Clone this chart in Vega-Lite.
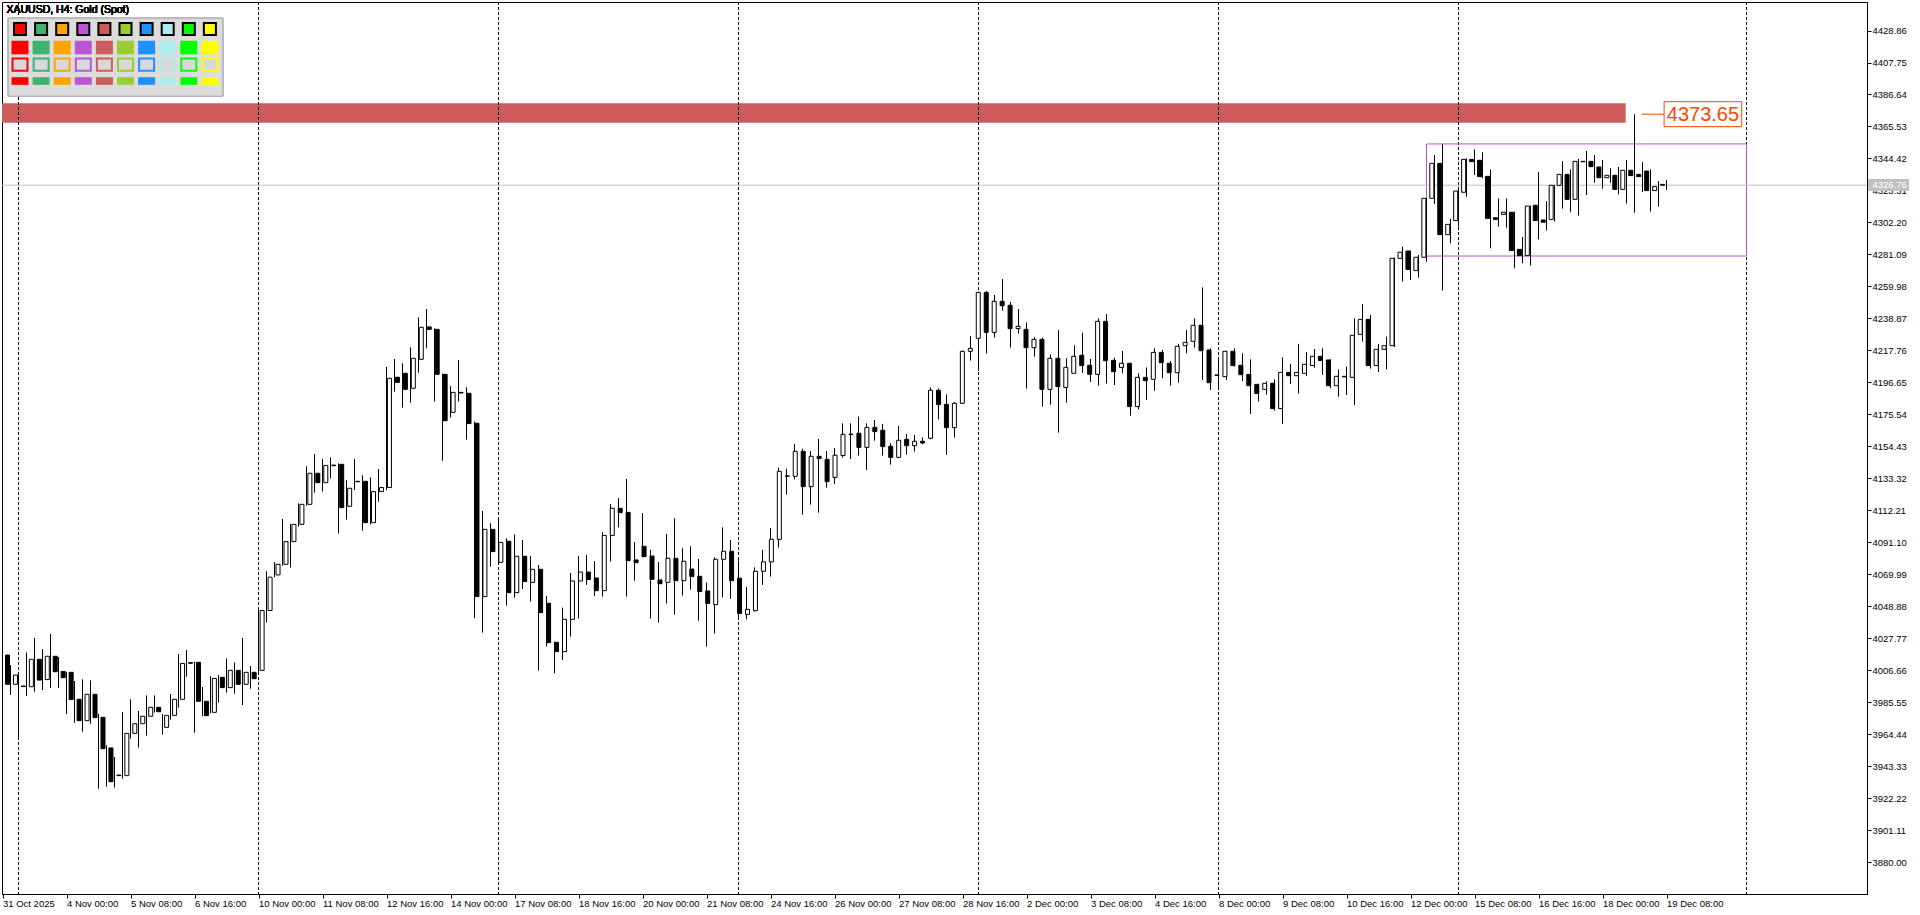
{
  "$schema": "https://vega.github.io/schema/vega-lite/v6.json",
  "width": 1865,
  "height": 892,
  "autosize": {"type": "none"},
  "padding": {"left": 2, "top": 2, "right": 53, "bottom": 21},
  "background": "white",
  "config": {
    "view": {"stroke": "black", "strokeWidth": 1},
    "font": "Liberation Sans",
    "axis": {"labelFont": "Liberation Sans", "titleFont": "Liberation Sans"}
  },
  "datasets": {
    "candles": [
      {"i":-2,"o":4016.6,"h":4020.5,"l":3994.0,"c":3997.3},
      {"i":-1,"o":3997.3,"h":4010.0,"l":3990.2,"c":4003.4},
      {"i":0,"o":3996.2,"h":4004.5,"l":3962.3,"c":3995.8},
      {"i":1,"o":3995.7,"h":4018.4,"l":3989.6,"c":4013.8},
      {"i":2,"o":4013.8,"h":4027.9,"l":3992.4,"c":4000.1},
      {"i":3,"o":4000.4,"h":4020.6,"l":3993.5,"c":4015.8},
      {"i":4,"o":4015.8,"h":4030.5,"l":3994.8,"c":4005.6},
      {"i":5,"o":4005.8,"h":4015.3,"l":3994.8,"c":4001.7},
      {"i":6,"o":4005.2,"h":4005.5,"l":3977.7,"c":3987.2},
      {"i":7,"o":3987.4,"h":3999.5,"l":3972.0,"c":3973.3},
      {"i":8,"o":3973.3,"h":4000.6,"l":3966.0,"c":3990.7},
      {"i":9,"o":3990.7,"h":3999.9,"l":3971.3,"c":3975.3},
      {"i":10,"o":3975.5,"h":3977.7,"l":3928.4,"c":3954.8},
      {"i":11,"o":3955.3,"h":3957.0,"l":3929.7,"c":3933.0},
      {"i":12,"o":3937.0,"h":3949.3,"l":3929.1,"c":3937.4},
      {"i":13,"o":3937.0,"h":3979.0,"l":3935.0,"c":3964.9},
      {"i":14,"o":3964.9,"h":3987.4,"l":3961.4,"c":3971.3},
      {"i":15,"o":3971.3,"h":3979.7,"l":3955.5,"c":3976.2},
      {"i":16,"o":3976.2,"h":3990.0,"l":3963.4,"c":3982.1},
      {"i":17,"o":3982.1,"h":3990.0,"l":3978.6,"c":3979.2},
      {"i":18,"o":3968.9,"h":3977.7,"l":3964.1,"c":3976.8},
      {"i":19,"o":3976.8,"h":3990.9,"l":3974.0,"c":3987.4},
      {"i":20,"o":3987.4,"h":4017.3,"l":3981.9,"c":4011.1},
      {"i":21,"o":4011.6,"h":4019.9,"l":4002.3,"c":4011.2},
      {"i":22,"o":4011.8,"h":4012.2,"l":3965.4,"c":3986.1},
      {"i":23,"o":3986.1,"h":3995.5,"l":3976.2,"c":3976.6},
      {"i":24,"o":3978.8,"h":4002.6,"l":3978.1,"c":4001.2},
      {"i":25,"o":4001.9,"h":4003.4,"l":3985.2,"c":3995.1},
      {"i":26,"o":3995.1,"h":4014.4,"l":3991.8,"c":4006.5},
      {"i":27,"o":4006.5,"h":4011.8,"l":3991.1,"c":3997.3},
      {"i":28,"o":3997.3,"h":4027.9,"l":3983.6,"c":4005.2},
      {"i":29,"o":4005.2,"h":4009.4,"l":3994.4,"c":4001.0},
      {"i":30,"o":4006.5,"h":4048.0,"l":4004.0,"c":4046.0},
      {"i":31,"o":4046.0,"h":4072.0,"l":4038.0,"c":4068.0},
      {"i":32,"o":4069.5,"h":4078.0,"l":4068.0,"c":4076.5},
      {"i":33,"o":4076.5,"h":4106.4,"l":4075.6,"c":4091.5},
      {"i":34,"o":4091.5,"h":4103.2,"l":4074.3,"c":4102.9},
      {"i":35,"o":4102.9,"h":4116.8,"l":4101.4,"c":4116.1},
      {"i":36,"o":4116.1,"h":4141.2,"l":4115.2,"c":4136.6},
      {"i":37,"o":4136.6,"h":4149.3,"l":4123.8,"c":4130.4},
      {"i":38,"o":4130.4,"h":4146.0,"l":4124.5,"c":4141.8},
      {"i":39,"o":4142.0,"h":4147.1,"l":4133.3,"c":4141.6},
      {"i":40,"o":4142.5,"h":4143.2,"l":4096.8,"c":4113.9},
      {"i":41,"o":4114.8,"h":4132.0,"l":4106.0,"c":4126.7},
      {"i":42,"o":4131.3,"h":4146.0,"l":4125.6,"c":4131.0},
      {"i":43,"o":4131.3,"h":4135.3,"l":4098.7,"c":4104.0},
      {"i":44,"o":4104.0,"h":4133.9,"l":4102.9,"c":4124.5},
      {"i":45,"o":4124.5,"h":4139.4,"l":4117.9,"c":4127.2},
      {"i":46,"o":4127.2,"h":4206.8,"l":4125.4,"c":4199.3},
      {"i":47,"o":4200.0,"h":4212.0,"l":4190.5,"c":4196.6},
      {"i":48,"o":4202.6,"h":4209.2,"l":4179.9,"c":4192.0},
      {"i":49,"o":4192.7,"h":4219.7,"l":4183.2,"c":4212.5},
      {"i":50,"o":4211.8,"h":4239.5,"l":4203.0,"c":4233.0},
      {"i":51,"o":4233.2,"h":4245.0,"l":4219.1,"c":4231.6},
      {"i":52,"o":4231.6,"h":4232.3,"l":4183.9,"c":4201.9},
      {"i":53,"o":4201.9,"h":4202.3,"l":4144.9,"c":4171.3},
      {"i":54,"o":4176.8,"h":4194.2,"l":4173.3,"c":4190.0},
      {"i":55,"o":4190.0,"h":4211.4,"l":4183.9,"c":4189.6},
      {"i":56,"o":4189.4,"h":4193.4,"l":4158.8,"c":4169.4},
      {"i":57,"o":4169.6,"h":4170.7,"l":4040.9,"c":4055.2},
      {"i":58,"o":4055.2,"h":4111.7,"l":4031.4,"c":4099.6},
      {"i":59,"o":4099.6,"h":4103.6,"l":4075.0,"c":4084.9},
      {"i":60,"o":4077.8,"h":4106.9,"l":4077.0,"c":4091.0},
      {"i":61,"o":4091.7,"h":4093.7,"l":4049.2,"c":4057.8},
      {"i":62,"o":4057.8,"h":4096.3,"l":4054.5,"c":4081.8},
      {"i":63,"o":4081.8,"h":4092.6,"l":4060.2,"c":4065.1},
      {"i":64,"o":4064.6,"h":4082.0,"l":4051.9,"c":4073.2},
      {"i":65,"o":4073.2,"h":4076.1,"l":4006.3,"c":4044.6},
      {"i":66,"o":4050.8,"h":4055.6,"l":4022.2,"c":4024.8},
      {"i":67,"o":4025.0,"h":4025.5,"l":4004.6,"c":4018.9},
      {"i":68,"o":4018.9,"h":4047.9,"l":4013.4,"c":4040.2},
      {"i":69,"o":4040.2,"h":4070.8,"l":4028.8,"c":4065.5},
      {"i":70,"o":4065.5,"h":4082.0,"l":4040.7,"c":4071.4},
      {"i":71,"o":4071.4,"h":4082.7,"l":4062.9,"c":4066.4},
      {"i":72,"o":4067.5,"h":4078.7,"l":4055.6,"c":4059.1},
      {"i":73,"o":4059.1,"h":4097.8,"l":4055.2,"c":4095.6},
      {"i":74,"o":4095.6,"h":4116.3,"l":4078.3,"c":4113.5},
      {"i":75,"o":4113.5,"h":4120.3,"l":4100.9,"c":4110.6},
      {"i":76,"o":4110.8,"h":4132.8,"l":4055.2,"c":4078.9},
      {"i":77,"o":4079.4,"h":4091.2,"l":4065.7,"c":4077.6},
      {"i":78,"o":4088.4,"h":4110.4,"l":4081.1,"c":4081.6},
      {"i":79,"o":4082.0,"h":4086.0,"l":4040.7,"c":4066.6},
      {"i":80,"o":4066.2,"h":4078.0,"l":4038.0,"c":4063.7},
      {"i":81,"o":4064.6,"h":4096.5,"l":4050.6,"c":4080.5},
      {"i":82,"o":4080.5,"h":4106.9,"l":4043.3,"c":4065.7},
      {"i":83,"o":4065.7,"h":4087.1,"l":4055.8,"c":4078.5},
      {"i":84,"o":4073.4,"h":4088.4,"l":4059.8,"c":4068.4},
      {"i":85,"o":4068.6,"h":4080.0,"l":4039.3,"c":4058.5},
      {"i":86,"o":4058.9,"h":4064.6,"l":4022.2,"c":4050.6},
      {"i":87,"o":4049.9,"h":4081.1,"l":4030.8,"c":4079.8},
      {"i":88,"o":4079.8,"h":4100.9,"l":4054.7,"c":4085.1},
      {"i":89,"o":4085.1,"h":4092.6,"l":4053.6,"c":4065.7},
      {"i":90,"o":4067.3,"h":4079.1,"l":4040.9,"c":4044.0},
      {"i":91,"o":4043.5,"h":4061.5,"l":4040.2,"c":4046.8},
      {"i":92,"o":4045.9,"h":4074.5,"l":4045.3,"c":4071.9},
      {"i":93,"o":4071.9,"h":4086.0,"l":4062.9,"c":4078.1},
      {"i":94,"o":4078.1,"h":4100.5,"l":4068.4,"c":4093.0},
      {"i":95,"o":4093.0,"h":4140.3,"l":4087.5,"c":4137.9},
      {"i":96,"o":4134.6,"h":4139.6,"l":4122.5,"c":4134.9},
      {"i":97,"o":4134.6,"h":4155.9,"l":4132.6,"c":4151.1},
      {"i":98,"o":4151.1,"h":4152.8,"l":4109.3,"c":4127.8},
      {"i":99,"o":4127.8,"h":4151.3,"l":4115.9,"c":4147.8},
      {"i":100,"o":4147.8,"h":4159.2,"l":4110.6,"c":4146.3},
      {"i":101,"o":4145.8,"h":4151.3,"l":4127.1,"c":4131.1},
      {"i":102,"o":4133.9,"h":4153.3,"l":4129.5,"c":4148.5},
      {"i":103,"o":4148.3,"h":4169.6,"l":4146.9,"c":4162.3},
      {"i":104,"o":4162.5,"h":4169.6,"l":4146.0,"c":4162.2},
      {"i":105,"o":4163.0,"h":4174.0,"l":4148.3,"c":4153.7},
      {"i":106,"o":4153.7,"h":4169.6,"l":4138.8,"c":4166.9},
      {"i":107,"o":4166.9,"h":4171.8,"l":4158.1,"c":4164.1},
      {"i":108,"o":4165.0,"h":4169.2,"l":4148.3,"c":4154.2},
      {"i":109,"o":4154.4,"h":4156.4,"l":4142.3,"c":4147.1},
      {"i":110,"o":4147.1,"h":4167.8,"l":4146.9,"c":4158.4},
      {"i":111,"o":4159.0,"h":4162.5,"l":4148.9,"c":4154.8},
      {"i":112,"o":4154.8,"h":4161.9,"l":4150.9,"c":4157.7},
      {"i":113,"o":4157.7,"h":4160.3,"l":4155.7,"c":4156.6},
      {"i":114,"o":4159.7,"h":4193.3,"l":4159.0,"c":4191.4},
      {"i":115,"o":4191.4,"h":4192.7,"l":4172.2,"c":4181.9},
      {"i":116,"o":4182.1,"h":4188.7,"l":4148.7,"c":4166.7},
      {"i":117,"o":4166.7,"h":4183.6,"l":4160.1,"c":4182.8},
      {"i":118,"o":4182.8,"h":4217.6,"l":4182.5,"c":4217.1},
      {"i":119,"o":4217.1,"h":4227.2,"l":4211.0,"c":4219.1},
      {"i":120,"o":4225.7,"h":4256.4,"l":4204.3,"c":4256.0},
      {"i":121,"o":4256.0,"h":4256.9,"l":4215.6,"c":4229.6},
      {"i":122,"o":4229.6,"h":4254.3,"l":4226.1,"c":4250.1},
      {"i":123,"o":4250.1,"h":4264.8,"l":4243.9,"c":4247.2},
      {"i":124,"o":4247.5,"h":4249.7,"l":4219.5,"c":4232.1},
      {"i":125,"o":4232.1,"h":4245.0,"l":4228.8,"c":4233.6},
      {"i":126,"o":4231.6,"h":4236.2,"l":4192.5,"c":4219.5},
      {"i":127,"o":4219.5,"h":4226.6,"l":4213.6,"c":4225.0},
      {"i":128,"o":4225.0,"h":4226.1,"l":4180.6,"c":4192.0},
      {"i":129,"o":4192.0,"h":4215.1,"l":4181.9,"c":4212.5},
      {"i":130,"o":4212.5,"h":4231.2,"l":4163.4,"c":4193.8},
      {"i":131,"o":4193.3,"h":4212.5,"l":4183.2,"c":4206.5},
      {"i":132,"o":4202.6,"h":4221.1,"l":4202.4,"c":4213.8},
      {"i":133,"o":4214.5,"h":4229.4,"l":4202.8,"c":4207.7},
      {"i":134,"o":4207.9,"h":4212.0,"l":4196.9,"c":4201.9},
      {"i":135,"o":4201.9,"h":4238.9,"l":4194.4,"c":4236.9},
      {"i":136,"o":4236.9,"h":4241.7,"l":4195.8,"c":4210.9},
      {"i":137,"o":4211.2,"h":4212.9,"l":4194.9,"c":4203.7},
      {"i":138,"o":4206.5,"h":4217.3,"l":4202.6,"c":4209.2},
      {"i":139,"o":4209.2,"h":4209.5,"l":4174.6,"c":4180.6},
      {"i":140,"o":4180.6,"h":4202.6,"l":4178.8,"c":4199.9},
      {"i":141,"o":4199.9,"h":4206.5,"l":4185.0,"c":4197.7},
      {"i":142,"o":4198.6,"h":4219.1,"l":4191.1,"c":4216.4},
      {"i":143,"o":4216.4,"h":4218.0,"l":4199.3,"c":4209.6},
      {"i":144,"o":4209.2,"h":4210.7,"l":4194.4,"c":4203.0},
      {"i":145,"o":4203.0,"h":4222.0,"l":4196.4,"c":4220.4},
      {"i":146,"o":4220.8,"h":4231.2,"l":4215.8,"c":4223.0},
      {"i":147,"o":4223.7,"h":4238.9,"l":4219.5,"c":4234.3},
      {"i":148,"o":4234.3,"h":4259.3,"l":4198.2,"c":4217.5},
      {"i":149,"o":4218.0,"h":4219.1,"l":4191.6,"c":4196.4},
      {"i":150,"o":4201.5,"h":4213.6,"l":4192.7,"c":4201.2},
      {"i":151,"o":4200.4,"h":4217.5,"l":4198.2,"c":4217.1},
      {"i":152,"o":4217.1,"h":4219.1,"l":4207.0,"c":4207.7},
      {"i":153,"o":4207.9,"h":4215.8,"l":4197.5,"c":4201.7},
      {"i":154,"o":4201.9,"h":4211.8,"l":4175.7,"c":4194.4},
      {"i":155,"o":4195.3,"h":4195.6,"l":4183.9,"c":4189.2},
      {"i":156,"o":4192.0,"h":4197.3,"l":4188.5,"c":4196.0},
      {"i":157,"o":4196.0,"h":4198.6,"l":4177.9,"c":4179.3},
      {"i":158,"o":4179.3,"h":4213.1,"l":4169.1,"c":4203.2},
      {"i":159,"o":4203.2,"h":4208.7,"l":4195.5,"c":4201.0},
      {"i":160,"o":4201.0,"h":4222.0,"l":4189.2,"c":4203.2},
      {"i":161,"o":4202.6,"h":4216.7,"l":4200.8,"c":4208.5},
      {"i":162,"o":4207.7,"h":4218.6,"l":4206.3,"c":4213.8},
      {"i":163,"o":4213.8,"h":4219.1,"l":4201.5,"c":4211.0},
      {"i":164,"o":4211.4,"h":4211.8,"l":4192.7,"c":4194.4},
      {"i":165,"o":4194.4,"h":4205.2,"l":4187.2,"c":4200.6},
      {"i":166,"o":4200.2,"h":4207.0,"l":4188.3,"c":4200.6},
      {"i":167,"o":4199.9,"h":4238.9,"l":4181.7,"c":4227.7},
      {"i":168,"o":4228.3,"h":4248.3,"l":4223.5,"c":4238.2},
      {"i":169,"o":4238.2,"h":4241.1,"l":4205.7,"c":4207.7},
      {"i":170,"o":4207.7,"h":4222.0,"l":4203.5,"c":4218.4},
      {"i":171,"o":4218.4,"h":4226.8,"l":4205.2,"c":4220.8},
      {"i":172,"o":4220.8,"h":4279.0,"l":4220.0,"c":4278.5},
      {"i":173,"o":4278.5,"h":4286.2,"l":4263.1,"c":4282.5},
      {"i":174,"o":4283.3,"h":4283.6,"l":4264.2,"c":4271.2},
      {"i":175,"o":4270.4,"h":4280.7,"l":4265.7,"c":4279.2},
      {"i":176,"o":4279.2,"h":4318.3,"l":4276.3,"c":4318.1},
      {"i":177,"o":4318.1,"h":4346.7,"l":4314.4,"c":4341.2},
      {"i":178,"o":4341.2,"h":4354.0,"l":4257.2,"c":4294.1},
      {"i":179,"o":4294.1,"h":4304.5,"l":4288.4,"c":4300.9},
      {"i":180,"o":4303.4,"h":4325.8,"l":4299.4,"c":4322.9},
      {"i":181,"o":4322.1,"h":4344.5,"l":4319.2,"c":4343.8},
      {"i":182,"o":4343.8,"h":4350.4,"l":4333.5,"c":4342.3},
      {"i":183,"o":4343.2,"h":4348.5,"l":4331.3,"c":4332.4},
      {"i":184,"o":4332.6,"h":4337.2,"l":4285.1,"c":4304.9},
      {"i":185,"o":4305.3,"h":4318.1,"l":4299.4,"c":4304.2},
      {"i":186,"o":4307.5,"h":4318.1,"l":4298.7,"c":4308.9},
      {"i":187,"o":4308.9,"h":4309.2,"l":4271.9,"c":4283.6},
      {"i":188,"o":4284.4,"h":4292.6,"l":4275.2,"c":4280.3},
      {"i":189,"o":4280.3,"h":4313.3,"l":4273.7,"c":4313.0},
      {"i":190,"o":4313.5,"h":4335.5,"l":4291.0,"c":4303.4},
      {"i":191,"o":4303.8,"h":4316.3,"l":4297.0,"c":4302.3},
      {"i":192,"o":4304.2,"h":4327.0,"l":4302.7,"c":4326.7},
      {"i":193,"o":4326.7,"h":4342.7,"l":4311.3,"c":4333.9},
      {"i":194,"o":4333.9,"h":4337.2,"l":4308.9,"c":4317.4},
      {"i":195,"o":4317.4,"h":4344.1,"l":4306.7,"c":4342.5},
      {"i":196,"o":4342.5,"h":4349.3,"l":4320.3,"c":4342.2},
      {"i":197,"o":4342.5,"h":4346.7,"l":4328.4,"c":4339.0},
      {"i":198,"o":4338.8,"h":4343.4,"l":4324.5,"c":4331.7},
      {"i":199,"o":4331.7,"h":4337.9,"l":4328.4,"c":4333.3},
      {"i":200,"o":4333.3,"h":4338.8,"l":4320.7,"c":4324.0},
      {"i":201,"o":4324.0,"h":4343.4,"l":4314.6,"c":4336.6},
      {"i":202,"o":4336.6,"h":4373.65,"l":4308.6,"c":4333.1},
      {"i":203,"o":4333.9,"h":4342.1,"l":4322.3,"c":4332.4},
      {"i":204,"o":4336.1,"h":4337.2,"l":4309.3,"c":4323.2},
      {"i":205,"o":4323.2,"h":4329.5,"l":4312.6,"c":4325.8},
      {"i":206,"o":4327.3,"h":4330.2,"l":4323.6,"c":4326.76}
    ],
    "palette": [
      {"col":0,"name":"Red"},
      {"col":1,"name":"MediumSeaGreen"},
      {"col":2,"name":"Orange"},
      {"col":3,"name":"MediumOrchid"},
      {"col":4,"name":"IndianRed"},
      {"col":5,"name":"YellowGreen"},
      {"col":6,"name":"DodgerBlue"},
      {"col":7,"name":"PaleTurquoise"},
      {"col":8,"name":"Lime"},
      {"col":9,"name":"Yellow"}
    ]
  },
  "layer": [
    {
      "data": {"values": [{"from": -3, "to": 200.9, "lo": 4368.0, "hi": 4380.8}]},
      "mark": {"type": "rect", "color": "#CD5C5C", "clip": true},
      "encoding": {
        "x": {"field": "from", "type": "quantitative", "axis": null, "scale": {"domain": [-2.0625, 231.0625], "zero": false, "nice": false}},
        "x2": {"field": "to"},
        "y": {"field": "lo", "type": "quantitative", "axis": null, "scale": {"domain": [3858.88, 4447.69], "zero": false, "nice": false}},
        "y2": {"field": "hi"}
      }
    },
    {
      "data": {"values": [{"i": 0}, {"i": 30}, {"i": 60}, {"i": 90}, {"i": 120}, {"i": 150}, {"i": 180}, {"i": 216}]},
      "mark": {"type": "rule", "color": "black", "strokeWidth": 1, "strokeDash": [3, 2]},
      "encoding": {
        "x": {"field": "i", "type": "quantitative", "axis": null, "scale": {"domain": [-2.0625, 231.0625], "zero": false, "nice": false}}
      }
    },
    {
      "data": {"values": [{"from": 176, "to": 216, "lo": 4280.0, "hi": 4354.0}]},
      "mark": {"type": "rect", "fillOpacity": 0, "stroke": "#BA55D3", "strokeWidth": 1},
      "encoding": {
        "x": {"field": "from", "type": "quantitative", "axis": null, "scale": {"domain": [-2.0625, 231.0625], "zero": false, "nice": false}},
        "x2": {"field": "to"},
        "y": {"field": "lo", "type": "quantitative", "axis": null, "scale": {"domain": [3858.88, 4447.69], "zero": false, "nice": false}},
        "y2": {"field": "hi"}
      }
    },
    {
      "data": {"values": [{"price": 4326.76}]},
      "mark": {"type": "rule", "color": "#C0C0C0", "strokeWidth": 1},
      "encoding": {
        "y": {"field": "price", "type": "quantitative", "axis": null, "scale": {"domain": [3858.88, 4447.69], "zero": false, "nice": false}}
      }
    },
    {
      "data": {"name": "candles"},
      "mark": {"type": "rule", "color": "black", "strokeWidth": 1},
      "encoding": {
        "x": {
          "field": "i", "type": "quantitative",
          "scale": {"domain": [-2.0625, 231.0625], "zero": false, "nice": false},
          "axis": {
            "title": null, "orient": "bottom", "grid": false,
            "values": [-2, 6, 14, 22, 30, 38, 46, 54, 62, 70, 78, 86, 94, 102, 110, 118, 126, 134, 142, 150, 158, 166, 174, 182, 190, 198, 206],
            "labelExpr": "['31 Oct 2025','4 Nov 00:00','5 Nov 08:00','6 Nov 16:00','10 Nov 00:00','11 Nov 08:00','12 Nov 16:00','14 Nov 00:00','17 Nov 08:00','18 Nov 16:00','20 Nov 00:00','21 Nov 08:00','24 Nov 16:00','26 Nov 00:00','27 Nov 08:00','28 Nov 16:00','2 Dec 00:00','3 Dec 08:00','4 Dec 16:00','8 Dec 00:00','9 Dec 08:00','10 Dec 16:00','12 Dec 00:00','15 Dec 08:00','16 Dec 16:00','18 Dec 00:00','19 Dec 08:00'][(datum.value+2)/8]",
            "labelAlign": "left", "labelDx": 1, "labelPadding": 0,
            "labelFontSize": 9.5, "labelColor": "black",
            "labelOverlap": false, "labelFlush": false, "labelBound": false,
            "tickSize": 4, "tickColor": "black", "domainColor": "black"
          }
        },
        "y": {
          "field": "l", "type": "quantitative",
          "scale": {"domain": [3858.88, 4447.69], "zero": false, "nice": false},
          "axis": {
            "title": null, "orient": "right", "grid": false,
            "values": [3880.00, 3901.11, 3922.22, 3943.33, 3964.44, 3985.55, 4006.66, 4027.77, 4048.88, 4069.99, 4091.10, 4112.21, 4133.32, 4154.43, 4175.54, 4196.65, 4217.76, 4238.87, 4259.98, 4281.09, 4302.20, 4323.31, 4344.42, 4365.53, 4386.64, 4407.75, 4428.86],
            "format": ".2f",
            "labelFontSize": 9.5, "labelColor": "black", "labelPadding": 1,
            "labelOverlap": false, "labelFlush": false, "labelBound": false,
            "tickSize": 4, "tickColor": "black", "domainColor": "black"
          }
        },
        "y2": {"field": "h"}
      }
    },
    {
      "data": {"name": "candles"},
      "mark": {"type": "bar", "width": 4, "stroke": "black", "strokeWidth": 1},
      "encoding": {
        "x": {"field": "i", "type": "quantitative", "axis": null, "scale": {"domain": [-2.0625, 231.0625], "zero": false, "nice": false}},
        "y": {"field": "o", "type": "quantitative", "axis": null, "scale": {"domain": [3858.88, 4447.69], "zero": false, "nice": false}},
        "y2": {"field": "c"},
        "fill": {"condition": {"test": "datum.o > datum.c", "value": "black"}, "value": "white"}
      }
    },
    {
      "data": {"values": [{"price": 4373.65}]},
      "mark": {"type": "rule", "color": "#FF4500", "strokeWidth": 1},
      "encoding": {
        "x": {"datum": 202.9, "type": "quantitative", "axis": null, "scale": {"domain": [-2.0625, 231.0625], "zero": false, "nice": false}},
        "x2": {"datum": 205.7},
        "y": {"field": "price", "type": "quantitative", "axis": null, "scale": {"domain": [3858.88, 4447.69], "zero": false, "nice": false}}
      }
    },
    {
      "data": {"values": [{"price": 4373.65}]},
      "mark": {"type": "rect", "fill": "white", "stroke": "#FF4500", "strokeWidth": 1},
      "encoding": {
        "x": {"datum": 205.7, "type": "quantitative", "axis": null, "scale": {"domain": [-2.0625, 231.0625], "zero": false, "nice": false}},
        "x2": {"datum": 215.4},
        "y": {"datum": 4365.4, "type": "quantitative", "axis": null, "scale": {"domain": [3858.88, 4447.69], "zero": false, "nice": false}},
        "y2": {"datum": 4381.9}
      }
    },
    {
      "data": {"values": [{"price": 4373.65}]},
      "mark": {"type": "text", "color": "#FF4500", "fontSize": 20, "font": "Liberation Sans", "align": "center", "baseline": "middle", "dy": 1},
      "encoding": {
        "x": {"datum": 210.55, "type": "quantitative", "axis": null, "scale": {"domain": [-2.0625, 231.0625], "zero": false, "nice": false}},
        "y": {"field": "price", "type": "quantitative", "axis": null, "scale": {"domain": [3858.88, 4447.69], "zero": false, "nice": false}},
        "text": {"field": "price", "type": "quantitative", "format": ".2f"}
      }
    },
    {
      "data": {"values": [{"price": 4326.76}]},
      "mark": {"type": "rect", "fill": "#C0C0C0", "clip": false},
      "encoding": {
        "x": {"datum": 231.19, "type": "quantitative", "axis": null, "scale": {"domain": [-2.0625, 231.0625], "zero": false, "nice": false}},
        "x2": {"datum": 236.31},
        "y": {"datum": 4322.93, "type": "quantitative", "axis": null, "scale": {"domain": [3858.88, 4447.69], "zero": false, "nice": false}},
        "y2": {"datum": 4330.85}
      }
    },
    {
      "data": {"values": [{"price": 4326.76}]},
      "mark": {"type": "text", "color": "white", "fontSize": 9.5, "font": "Liberation Sans", "align": "left", "baseline": "middle", "clip": false},
      "encoding": {
        "x": {"datum": 231.75, "type": "quantitative", "axis": null, "scale": {"domain": [-2.0625, 231.0625], "zero": false, "nice": false}},
        "y": {"field": "price", "type": "quantitative", "axis": null, "scale": {"domain": [3858.88, 4447.69], "zero": false, "nice": false}},
        "text": {"field": "price", "type": "quantitative", "format": ".2f"}
      }
    },
    {
      "data": {"name": "palette"},
      "layer": [
        {
          "mark": {"type": "rect", "fill": "#DCDCDC", "stroke": "#B4B4B4", "strokeWidth": 1},
          "encoding": {
            "x": {"datum": -0.5545, "type": "quantitative", "axis": null,
                  "scale": {"domain": [-0.8531, 87.536], "zero": false, "nice": false}},
            "x2": {"datum": 9.607},
            "y": {"datum": 0.383, "type": "quantitative", "axis": null,
                  "scale": {"domain": [-0.558, 50.91], "zero": false, "nice": false, "reverse": true}},
            "y2": {"datum": 4.866}
          }
        },
        {
          "mark": {"type": "text", "text": "XAUUSD, H4:  Gold (Spot)", "fontSize": 10.5, "fontWeight": "normal", "font": "Liberation Sans", "color": "black", "align": "left", "baseline": "middle"},
          "encoding": {
            "x": {"datum": -0.64, "type": "quantitative", "axis": null},
            "y": {"datum": -0.125, "type": "quantitative", "axis": null}
          }
        },
        {
          "mark": {"type": "point", "shape": "square", "filled": true, "size": 144, "stroke": "black", "strokeWidth": 2, "opacity": 1},
          "encoding": {
            "x": {"field": "col", "type": "quantitative", "axis": null},
            "y": {"datum": 1, "type": "quantitative", "axis": null},
            "fill": {"field": "name", "type": "nominal", "legend": null,
                     "scale": {"domain": ["Red","MediumSeaGreen","Orange","MediumOrchid","IndianRed","YellowGreen","DodgerBlue","PaleTurquoise","Lime","Yellow"],
                               "range": ["#FF0000","#3CB371","#FFA500","#BA55D3","#CD5C5C","#9ACD32","#1E90FF","#AFEEEE","#00FF00","#FFFF00"]}}
          }
        },
        {
          "mark": {"type": "point", "shape": "M-1,-0.8H1V0.8H-1Z", "filled": true, "size": 289, "strokeWidth": 0, "opacity": 1},
          "encoding": {
            "x": {"field": "col", "type": "quantitative", "axis": null},
            "y": {"datum": 2.07, "type": "quantitative", "axis": null},
            "fill": {"field": "name", "type": "nominal", "legend": null}
          }
        },
        {
          "mark": {"type": "point", "shape": "M-1,-0.82H1V0.82H-1Z", "filled": false, "fill": "#D8D8D8", "size": 225, "strokeWidth": 2, "opacity": 1},
          "encoding": {
            "x": {"field": "col", "type": "quantitative", "axis": null},
            "y": {"datum": 3.05, "type": "quantitative", "axis": null},
            "stroke": {"field": "name", "type": "nominal", "legend": null,
                       "scale": {"domain": ["Red","MediumSeaGreen","Orange","MediumOrchid","IndianRed","YellowGreen","DodgerBlue","PaleTurquoise","Lime","Yellow"],
                                 "range": ["#FF0000","#3CB371","#FFA500","#BA55D3","#CD5C5C","#9ACD32","#1E90FF","#AFEEEE","#00FF00","#FFFF00"]}}
          }
        },
        {
          "mark": {"type": "point", "shape": "M-1,-0.45H1V0.45H-1Z", "filled": true, "size": 289, "strokeWidth": 0, "opacity": 1},
          "encoding": {
            "x": {"field": "col", "type": "quantitative", "axis": null},
            "y": {"datum": 4, "type": "quantitative", "axis": null},
            "fill": {"field": "name", "type": "nominal", "legend": null}
          }
        }
      ]
    }
  ],
  "resolve": {"scale": {"x": "independent", "y": "independent"}, "axis": {"x": "independent", "y": "independent"}}
}
